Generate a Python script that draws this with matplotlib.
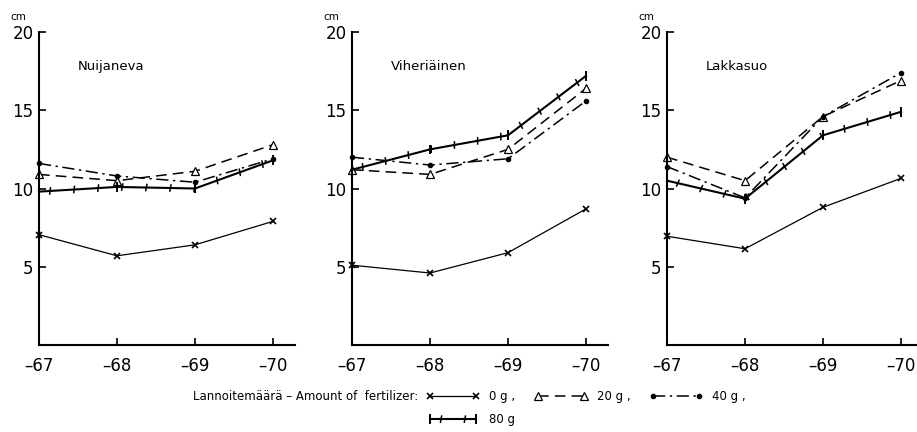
"""
Height growth of seedlings on three peatland sites, 1967-1970,
for four amounts of fertilizer. Redrawn from a scanned figure.
"""

import matplotlib
matplotlib.use("Agg")
import matplotlib.pyplot as plt
import matplotlib.patheffects as pe

# Years on the x axis and their labels
years = [67, 68, 69, 70]
year_labels = ['\u201367', '\u201368', '\u201369', '\u201370']

# Site names (panel titles)
sites = ['Nuijaneva', 'Viheriäinen', 'Lakkasuo']

# Heights in cm
nuijaneva_0g = [7.05, 5.7, 6.4, 7.9]
nuijaneva_20g = [10.9, 10.5, 11.1, 12.8]
nuijaneva_40g = [11.6, 10.8, 10.4, 11.9]
nuijaneva_80g = [9.8, 10.1, 10.0, 11.8]

viheriainen_0g = [5.1, 4.6, 5.9, 8.7]
viheriainen_20g = [11.2, 10.9, 12.5, 16.4]
viheriainen_40g = [12.0, 11.5, 11.9, 15.6]
viheriainen_80g = [11.2, 12.5, 13.4, 17.2]

lakkasuo_0g = [6.95, 6.15, 8.8, 10.65]
lakkasuo_20g = [12.0, 10.5, 14.6, 16.9]
lakkasuo_40g = [11.4, 9.4, 14.6, 17.4]
lakkasuo_80g = [10.5, 9.35, 13.4, 14.9]

# Fertilizer amounts (legend labels)
amounts = ['0 g ,', '20 g ,', '40 g ,', '80 g']

site_data = [
    [nuijaneva_0g, nuijaneva_20g, nuijaneva_40g, nuijaneva_80g],
    [viheriainen_0g, viheriainen_20g, viheriainen_40g, viheriainen_80g],
    [lakkasuo_0g, lakkasuo_20g, lakkasuo_40g, lakkasuo_80g],
]

# small hash marks along the 80 g line
hash_marks = [
    pe.withTickedStroke(angle=80, spacing=16, length=0.14, linewidth=1.1),
    pe.TickedStroke(angle=-100, spacing=16, length=0.14, linewidth=1.1),
]

# one style per fertilizer amount
styles = [
    dict(color='black', lw=0.9, ls='-', marker='x', ms=5, mew=1.2),
    dict(color='black', lw=1.1, ls=(0, (7, 4)), marker='^', ms=5.5,
         mfc='white', mew=0.9),
    dict(color='black', lw=1.1, ls=(0, (8, 3, 1.5, 3)), marker='.', ms=6),
    dict(color='black', lw=1.5, ls='-', marker='|', ms=7, mew=1.4,
         path_effects=hash_marks),
]


def draw_panel(ax, title, series):
    # four lines, one per fertilizer amount
    handles = []
    for values, label, style in zip(series, amounts, styles):
        line, = ax.plot(years, values, label=label, clip_on=False, **style)
        handles.append(line)

    ax.set_xlim(67, 70.28)
    ax.set_ylim(0, 20)
    ax.set_xticks(years)
    ax.set_xticklabels(year_labels)
    ax.set_yticks([5, 10, 15, 20])

    for side in ['top', 'right']:
        ax.spines[side].set_visible(False)
    for side in ['left', 'bottom']:
        ax.spines[side].set_linewidth(1.5)

    ax.tick_params(axis='x', direction='in', length=5, width=1.2, pad=9,
                   labelsize=12)
    ax.tick_params(axis='y', direction='in', length=5, width=1.2, pad=4,
                   labelsize=12)

    ax.text(0.15, 0.89, title, transform=ax.transAxes, fontsize=9.5,
            ha='left', va='center')
    ax.annotate('cm', xy=(0, 1), xycoords='axes fraction', xytext=(-15, 11),
                textcoords='offset points', ha='center', va='center',
                fontsize=7.5)
    return handles


def main():
    fig = plt.figure(figsize=(9.17, 4.32), dpi=100)

    lefts = [0.0425, 0.3839, 0.7274]
    handles = None
    for left, title, series in zip(lefts, sites, site_data):
        ax = fig.add_axes([left, 0.2014, 0.279, 0.7245])
        handles = draw_panel(ax, title, series)

    # legend: 0 g and 80 g share the first column
    order = [0, 3, 1, 2]
    fig.legend([handles[i] for i in order], [amounts[i] for i in order],
               loc='upper left', bbox_to_anchor=(0.465, 0.098), ncol=3,
               frameon=False, fontsize=8.5, numpoints=2, handlelength=4.5,
               handletextpad=0.8, columnspacing=1.6, labelspacing=0.9,
               borderpad=0, borderaxespad=0)
    fig.text(0.456, 0.083, 'Lannoitemäärä \u2013 Amount of  fertilizer:',
             ha='right', va='center', fontsize=8.5)

    fig.savefig('out.png', dpi=100)


if __name__ == "__main__":
    main()
